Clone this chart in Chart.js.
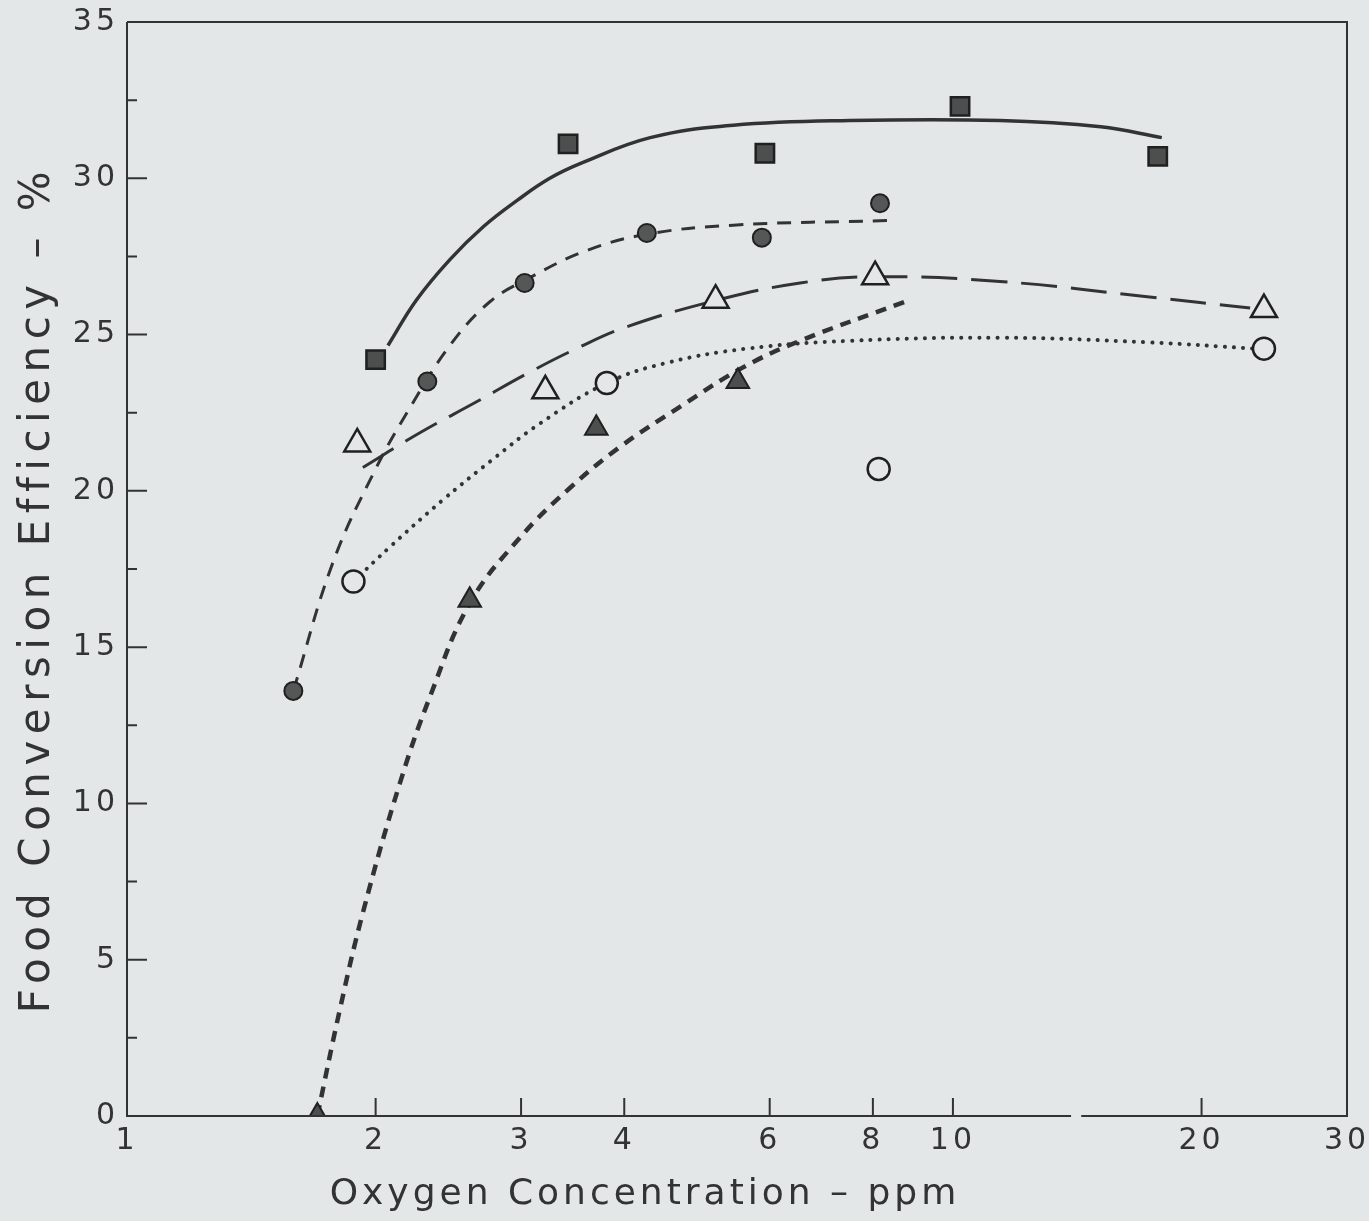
<!DOCTYPE html>
<html>
<head>
<meta charset="utf-8">
<script src="https://cdn.jsdelivr.net/npm/chart.js@4.4.1/dist/chart.umd.min.js"></script>
<style>
html, body { margin: 0; padding: 0; background: #e4e7e7; }
#wrap { width: 1369px; height: 1221px; position: relative; }
</style>
</head>
<body>
<div id="wrap"><canvas id="fce"></canvas></div>
<script>
// axis ticks
var xTicks = [1, 2, 3, 4, 6, 8, 10, 20, 30];
var yTicks = [0, 5, 10, 15, 20, 25, 30, 35];

// measured points
var sqX = [2.0, 3.42, 5.92, 10.2, 17.7];
var sqY = [24.2, 31.1, 30.8, 32.3, 30.7];

var dotX = [1.59, 2.31, 3.03, 4.26, 5.87, 8.16];
var dotY = [13.6, 23.5, 26.65, 28.25, 28.1, 29.2];

var triX = [1.90, 3.21, 5.16, 8.05, 23.8];
var triY = [21.5, 23.2, 26.1, 26.85, 25.8];

var ringX = [1.88, 3.81, 8.13, 23.8];
var ringY = [17.1, 23.45, 20.7, 24.55];

var ftriX = [1.70, 2.60, 3.70, 5.49];
var ftriY = [0, 16.5, 22.0, 23.5];

// fitted curves
var solidX = [2.07, 2.24, 2.46, 2.70, 2.97, 3.25, 3.56, 4.30, 5.42, 7.5, 11.4, 15.1, 17.9];
var solidY = [24.65, 26.1, 27.4, 28.45, 29.3, 30.0, 30.5, 31.3, 31.7, 31.85, 31.85, 31.65, 31.3];

var dashX = [1.59, 1.775, 2.0, 2.2, 2.46, 2.75, 3.04, 3.57, 4.24, 5.42, 8.34];
var dashY = [13.6, 17.7, 20.7, 22.65, 24.65, 26.05, 26.75, 27.65, 28.2, 28.5, 28.65];

var longX = [1.93, 2.26, 2.65, 3.05, 3.50, 4.03, 5.18, 6.53, 8.05, 11.4, 17.3, 22.9];
var longY = [20.75, 21.85, 22.85, 23.75, 24.55, 25.25, 26.1, 26.65, 26.85, 26.7, 26.2, 25.85];

var dottedX = [1.88, 2.08, 2.41, 2.77, 3.16, 3.81, 4.51, 5.63, 7.5, 11.4, 17.3, 23.2];
var dottedY = [17.1, 18.2, 19.7, 21.0, 22.15, 23.45, 24.1, 24.55, 24.8, 24.9, 24.75, 24.55];

var heavyX = [1.70, 1.81, 1.93, 2.14, 2.33, 2.60, 2.99, 3.44, 3.95, 4.71, 5.57, 6.53, 8.75];
var heavyY = [0, 3.4, 6.5, 10.65, 13.45, 16.4, 18.5, 20.1, 21.4, 22.75, 23.95, 24.8, 26.05];

var ink = '#323434';
var paper = '#e4e7e7';
var face = '"DejaVu Sans", sans-serif';

function pts(xs, ys) {
    return xs.map(function(x, i) { return {x: x, y: ys[i]}; });
}

function marker(data, style, r, fill, bw) {
    return {
        data: data, showLine: false, pointStyle: style, pointRadius: r,
        pointBackgroundColor: fill, pointBorderColor: '#1f2020', pointBorderWidth: bw
    };
}

function curve(data, width, dash, cap) {
    return {
        data: data, showLine: true, pointRadius: 0, borderColor: ink,
        borderWidth: width, borderDash: dash, borderCapStyle: cap || 'butt',
        tension: 0.4, fill: false
    };
}

var frame = {
    id: 'frame',
    beforeDraw: function(chart) {
        chart.ctx.letterSpacing = '4px';
    },
    afterDraw: function(chart) {
        var ctx = chart.ctx, ca = chart.chartArea;
        var xs = chart.scales.x, ys = chart.scales.y;
        ctx.save();
        ctx.strokeStyle = ink;
        ctx.lineWidth = 2;
        ctx.beginPath();
        // box with the small break in the bottom axis
        ctx.moveTo(ca.left, ca.top);
        ctx.lineTo(ca.right, ca.top);
        ctx.lineTo(ca.right, ca.bottom);
        ctx.lineTo(xs.getPixelForValue(14.3), ca.bottom);
        ctx.moveTo(xs.getPixelForValue(13.9), ca.bottom);
        ctx.lineTo(ca.left, ca.bottom);
        ctx.lineTo(ca.left, ca.top);
        // inner ticks
        xTicks.slice(1, -1).forEach(function(v) {
            var p = xs.getPixelForValue(v);
            ctx.moveTo(p, ca.bottom);
            ctx.lineTo(p, ca.bottom - 18);
        });
        for (var v = 2.5; v < 35; v += 2.5) {
            var py = ys.getPixelForValue(v);
            ctx.moveTo(ca.left, py);
            ctx.lineTo(ca.left + (v % 5 === 0 ? 20 : 10), py);
        }
        ctx.stroke();

        ctx.fillStyle = ink;
        ctx.textAlign = 'center';
        ctx.textBaseline = 'middle';
        ctx.letterSpacing = '4px';
        ctx.font = '36px ' + face;
        ctx.fillText('Oxygen Concentration \u2013 ppm', 645, 1195);
        ctx.translate(38, 589);
        ctx.rotate(-Math.PI / 2);
        ctx.letterSpacing = '6.5px';
        ctx.font = '42px ' + face;
        ctx.fillText('Food Conversion Efficiency \u2013 %', 0, 0);
        ctx.restore();
    }
};

new Chart(document.getElementById('fce'), {
    type: 'scatter',
    data: {
        datasets: [
            marker(pts(sqX, sqY), 'rect', 13, '#4d4f4f', 2.5),
            marker(pts(dotX, dotY), 'circle', 9, '#555757', 2),
            marker(pts(triX, triY), 'triangle', 15, paper, 2.5),
            marker(pts(ringX, ringY), 'circle', 11, paper, 2.5),
            marker(pts(ftriX, ftriY), 'triangle', 13, '#4d4f4f', 2),
            curve(pts(solidX, solidY), 3.5, []),
            curve(pts(dashX, dashY), 3, [14, 10]),
            curve(pts(longX, longY), 3, [36, 14]),
            curve(pts(dottedX, dottedY), 4, [0.1, 9], 'round'),
            curve(pts(heavyX, heavyY), 4.5, [11, 8])
        ]
    },
    options: {
        responsive: true,
        maintainAspectRatio: false,
        animation: false,
        events: [],
        layout: { padding: { top: 22, right: 22, left: 0, bottom: 0 } },
        plugins: { legend: { display: false }, tooltip: { enabled: false } },
        scales: {
            x: {
                type: 'logarithmic', min: 1, max: 30,
                afterBuildTicks: function(s) { s.ticks = xTicks.map(function(v) { return {value: v}; }); },
                afterFit: function(s) { s.height = 105; s.paddingLeft = 0; s.paddingRight = 0; },
                grid: { display: false, drawTicks: false },
                border: { display: false },
                ticks: {
                    autoSkip: false, maxRotation: 0, padding: 7, color: ink,
                    font: { family: face, size: 30 },
                    callback: function(v) { return String(v); }
                }
            },
            y: {
                min: 0, max: 35,
                afterBuildTicks: function(s) { s.ticks = yTicks.map(function(v) { return {value: v}; }); },
                afterFit: function(s) { s.width = 127; s.paddingTop = 0; s.paddingBottom = 0; },
                grid: { display: false, drawTicks: false },
                border: { display: false },
                ticks: {
                    padding: 8, color: ink,
                    font: { family: face, size: 30 },
                    callback: function(v) { return String(v); }
                }
            }
        }
    },
    plugins: [frame]
});
</script>
</body>
</html>
